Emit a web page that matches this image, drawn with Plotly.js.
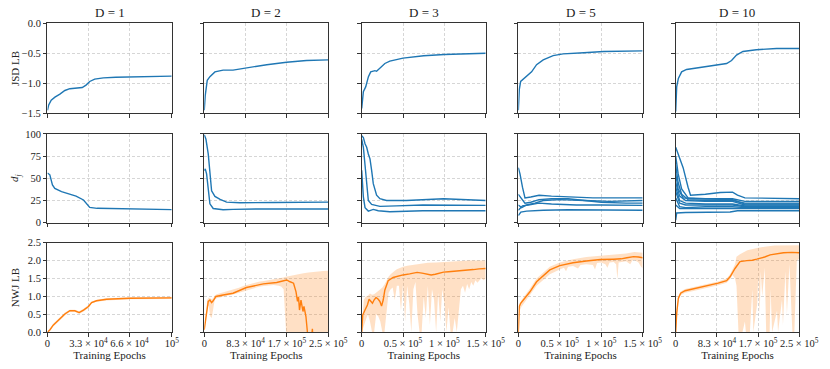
<!DOCTYPE html>
<html>
<head>
<meta charset="utf-8">
<script src="https://cdn.plot.ly/plotly-3.0.1.min.js"></script>
<style>
  body { margin: 0; padding: 0; background: #fff; }
  #chart { width: 830px; height: 369px; }
</style>
</head>
<body>
<div id="chart"></div>
<script>
// column headers and x ranges
const dims = ['D = 1', 'D = 2', 'D = 3', 'D = 5', 'D = 10'];
const xMax = [100000, 250000, 150000, 150000, 250000];

// ---- row 1: JSD LB ----
const jsdX1 = [0, 1000, 3000, 6000, 10000, 14000, 18000, 22000, 26000, 28000, 31000, 34000, 38000, 45000, 55000, 70000, 85000, 100000];
const jsdY1 = [-1.45, -1.36, -1.28, -1.23, -1.18, -1.12, -1.09, -1.08, -1.08, -1.07, -1.03, -0.97, -0.93, -0.91, -0.90, -0.89, -0.885, -0.88];
const jsdX2 = [0, 2000, 6000, 11400, 21500, 38000, 58000, 85000, 126000, 166000, 206000, 250000];
const jsdY2 = [-1.45, -1.2, -0.95, -0.89, -0.81, -0.78, -0.78, -0.74, -0.69, -0.65, -0.62, -0.61];
const jsdX3 = [0, 2000, 4800, 8100, 10900, 16000, 18000, 22000, 28000, 34000, 50000, 75000, 100000, 150000];
const jsdY3 = [-1.42, -1.14, -1.06, -0.89, -0.81, -0.79, -0.8, -0.75, -0.67, -0.63, -0.58, -0.54, -0.52, -0.50];
const jsdX4 = [0, 1200, 2800, 8000, 16000, 22000, 30000, 42000, 54000, 79000, 103000, 150000];
const jsdY4 = [-1.45, -1.1, -0.97, -0.91, -0.81, -0.69, -0.61, -0.54, -0.51, -0.49, -0.47, -0.46];
const jsdX5 = [0, 2000, 5400, 12000, 22000, 49000, 83000, 103000, 113000, 123000, 136000, 163000, 204000, 250000];
const jsdY5 = [-1.47, -1.06, -0.92, -0.81, -0.77, -0.74, -0.70, -0.67, -0.62, -0.53, -0.47, -0.44, -0.42, -0.42];

// ---- row 2: d_j ----
const djX1 = [0, 1900, 4000, 5900, 11300, 18000, 23000, 29000, 32000, 34000, 40000, 69000, 100000];
const djY1 = [56, 54, 42.5, 38.7, 35, 32.3, 30, 25.6, 20.7, 17.3, 16.2, 15.8, 14.7];

const djX2a = [0, 3400, 8000, 11400, 14800, 21500, 32000, 45000, 72000, 139000, 250000];
const djY2a = [99, 94, 77.5, 51, 36, 29.6, 26.2, 23.2, 22.5, 22.8, 23.2];
const djX2b = [0, 2000, 4700, 8000, 11400, 18000, 38000, 58000, 105000, 250000];
const djY2b = [58.8, 60.7, 55, 34.5, 21.3, 16, 14.6, 15, 15.4, 15.4];

const djX3a = [0, 2000, 4000, 6000, 8000, 10000, 12000, 14000, 18000, 22000, 30000, 54000, 99000, 123000, 150000];
const djY3a = [98, 96, 89, 85, 77.5, 72, 59, 44, 31, 27, 25, 25, 27, 26, 25];
const djX3b = [0, 2000, 4000, 6000, 8000, 12000, 22000, 42000, 74000, 150000];
const djY3b = [94, 85, 65, 40, 25, 20.6, 18.4, 19, 20, 19.5];
const djX3c = [0, 2000, 4000, 8000, 14000, 20000, 34000, 74000, 150000];
const djY3c = [59, 29, 17, 13.1, 15, 13.5, 12.4, 13.5, 13.5];

const djX4a = [0, 2000, 5000, 8000, 15000, 25000, 40000, 60000, 90000, 120000, 150000];
const djY4a = [62, 55, 40, 28, 29, 31, 30, 29, 28, 28, 28];
const djX4b = [0, 3000, 8000, 15000, 25000, 40000, 60000, 80000, 100000, 130000, 150000];
const djY4b = [32, 28, 22, 23, 26, 27, 27, 25, 23, 22, 22];
const djX4c = [0, 4000, 10000, 20000, 30000, 50000, 80000, 110000, 150000];
const djY4c = [20, 17, 20, 22, 25, 26, 25, 24, 25];
const djX4d = [0, 5000, 12000, 25000, 40000, 70000, 100000, 150000];
const djY4d = [14, 19, 20, 22, 21, 20, 20, 19.5];
const djX4e = [0, 3000, 10000, 30000, 60000, 100000, 150000];
const djY4e = [8, 12, 13, 14, 14.5, 14, 14];

const djX5a = [0, 5000, 15000, 25000, 30000, 60000, 90000, 115000, 125000, 140000, 250000];
const djY5a = [85, 78, 62, 40, 31, 32, 34, 34.5, 31, 28, 27];
const djX5b = [0, 5000, 12000, 25000, 60000, 115000, 140000, 250000];
const djY5b = [75, 55, 38, 28, 27, 27, 24, 24];
const djX5c = [0, 5000, 12000, 25000, 60000, 115000, 140000, 250000];
const djY5c = [65, 45, 32, 26, 25, 25, 22, 22];
const djX5d = [0, 5000, 15000, 40000, 115000, 140000, 250000];
const djY5d = [55, 38, 28, 27, 26, 21, 21];
const djX5e = [0, 8000, 20000, 60000, 115000, 140000, 250000];
const djY5e = [45, 30, 25, 24, 24, 20, 20];
const djX5f = [0, 8000, 20000, 60000, 115000, 140000, 250000];
const djY5f = [40, 25, 22, 21, 21, 19, 19];
const djX5g = [0, 8000, 20000, 60000, 115000, 140000, 250000];
const djY5g = [35, 22, 20, 20, 20, 18, 18];
const djX5h = [0, 8000, 20000, 60000, 115000, 140000, 250000];
const djY5h = [28, 18, 17, 18, 18, 17, 17];
const djX5i = [0, 8000, 30000, 115000, 140000, 250000];
const djY5i = [20, 16, 16, 16, 16, 16];
const djX5j = [0, 2000, 20000, 110000, 125000, 250000];
const djY5j = [3, 11, 11.5, 12, 13.5, 13.5];

// ---- row 3: NWJ LB (mean, lower, upper) ----
const nwjX1 = [0, 2000, 4600, 7300, 11300, 14000, 18000, 22000, 25500, 29000, 33000, 35500, 39500, 47600, 66400, 100000];
const nwjY1 = [0, 0.07, 0.2, 0.3, 0.42, 0.51, 0.6, 0.6, 0.55, 0.62, 0.72, 0.83, 0.88, 0.92, 0.95, 0.96];
const nwjLo1 = [0, 0.04, 0.16, 0.26, 0.38, 0.47, 0.57, 0.57, 0.51, 0.58, 0.68, 0.8, 0.85, 0.89, 0.92, 0.93];
const nwjUp1 = [0.02, 0.1, 0.24, 0.34, 0.46, 0.55, 0.63, 0.63, 0.59, 0.66, 0.76, 0.86, 0.91, 0.95, 0.98, 0.99];

const nwjX2 = [0, 3400, 8000, 11400, 14800, 18000, 23500, 38000, 58000, 85000, 119000, 146000, 160000, 166000, 173000, 180000, 185000, 188000, 190000, 192000, 195000, 197000, 199000, 201000, 203000, 205000, 208000, 212000, 216000, 218000, 220000, 230000, 250000];
const nwjY2 = [0.07, 0.44, 0.86, 0.9, 0.83, 0.88, 1.0, 1.04, 1.09, 1.25, 1.35, 1.39, 1.43, 1.46, 1.41, 1.37, 1.13, 0.86, 0.99, 0.62, 0.9, 0.7, 0.58, 0.72, 0.55, 0.44, 0, -0.5, -0.2, 0.1, -0.5, -1, -1];
const bandX2 = [0, 3000, 6000, 9000, 12000, 15000, 18000, 21000, 25000, 30000, 40000, 50000, 60000, 70000, 80000, 90000, 100000, 110000, 120000, 130000, 140000, 150000, 155000, 160000, 162000, 165000, 170000, 180000, 190000, 200000, 210000, 220000, 230000, 240000, 250000];
const nwjLo2 = [0, 0.3, 0.7, 0.75, 0.45, 0.4, 0.6, 0.9, 0.95, 0.97, 1.0, 1.03, 1.06, 1.1, 1.16, 1.2, 1.24, 1.27, 1.29, 1.31, 1.32, 1.3, 1.28, 1.2, 0.6, 0, 0, 0, 0, 0, 0, 0, 0, 0, 0];
const nwjUp2 = [0.1, 0.55, 0.9, 0.97, 0.95, 0.92, 0.95, 1.02, 1.06, 1.08, 1.1, 1.14, 1.18, 1.24, 1.3, 1.34, 1.38, 1.41, 1.43, 1.45, 1.47, 1.5, 1.52, 1.53, 1.54, 1.55, 1.57, 1.6, 1.63, 1.65, 1.67, 1.69, 1.7, 1.71, 1.72];

const nwjX3 = [0, 1200, 4000, 6900, 8900, 10900, 13000, 14900, 17300, 20000, 22000, 24000, 26000, 28000, 32000, 38000, 44000, 50000, 58000, 67000, 73000, 79000, 84000, 89000, 94000, 99000, 105000, 112000, 119000, 127000, 135000, 142000, 150000];
const nwjY3 = [0, 0.48, 0.62, 0.76, 0.92, 0.86, 0.81, 0.9, 0.97, 0.92, 0.86, 0.73, 0.9, 1.18, 1.44, 1.53, 1.57, 1.6, 1.63, 1.67, 1.65, 1.63, 1.6, 1.62, 1.65, 1.68, 1.69, 1.7, 1.72, 1.74, 1.75, 1.77, 1.78];
const loX3 = [0, 2500, 5000, 7500, 10000, 12500, 15000, 17500, 20000, 22500, 25000, 27500, 30000, 32500, 35000, 37500, 40000, 42500, 45000, 47500, 50000, 52500, 55000, 57500, 60000, 62500, 65000, 67500, 70000, 72500, 75000, 77500, 80000, 82500, 85000, 87500, 90000, 92500, 95000, 97500, 100000, 102500, 105000, 107500, 110000, 112500, 115000, 117500, 120000, 122500, 125000, 127500, 130000, 132500, 135000, 137500, 140000, 142500, 145000, 147500, 150000];
const nwjLo3 = [0, 0.2, 0.35, 0.5, 0.3, 0, 0, 0.5, 0.45, 0.3, 0, 0, 0.6, 1.1, 1.2, 1.25, 0.9, 1.3, 1.3, 0.6, 1.35, 0.3, 1.3, 0.8, 0, 1.2, 1.4, 0.5, 0, 0, 1.0, 0.4, 1.3, 0.2, 1.2, 0.9, 0, 1.1, 0.3, 1.2, 0.8, 0, 0.7, 0, 0, 0.4, 0, 0.6, 1.2, 1.3, 1.1, 1.35, 1.2, 1.4, 1.3, 1.45, 1.38, 1.45, 1.5, 1.45, 1.5];
const upX3 = [0, 2500, 5000, 7500, 10000, 12500, 15000, 17500, 20000, 22500, 25000, 27500, 30000, 32500, 35000, 37500, 40000, 42500, 45000, 47500, 50000, 55000, 60000, 65000, 70000, 75000, 80000, 90000, 100000, 110000, 120000, 130000, 140000, 150000];
const nwjUp3 = [0.1, 0.9, 1.0, 1.02, 1.08, 1.05, 1.06, 1.12, 1.15, 1.2, 1.25, 1.33, 1.45, 1.55, 1.62, 1.68, 1.72, 1.76, 1.79, 1.81, 1.83, 1.86, 1.88, 1.9, 1.92, 1.93, 1.94, 1.95, 1.97, 1.98, 1.99, 2.0, 2.0, 2.0];

const nwjX4 = [0, 1200, 2800, 8000, 14000, 22000, 30000, 38000, 50000, 66000, 82000, 99000, 115000, 124000, 131000, 139000, 145000, 150000];
const nwjY4 = [0, 0.72, 0.81, 0.95, 1.13, 1.41, 1.57, 1.74, 1.86, 1.94, 1.99, 2.03, 2.04, 2.05, 2.08, 2.11, 2.1, 2.08];
const loX4 = [0, 1500, 4000, 8000, 14000, 22000, 30000, 38000, 50000, 55000, 57500, 60000, 66000, 72000, 75000, 82000, 90000, 92500, 95000, 100000, 105000, 107500, 110000, 115000, 118000, 119500, 121000, 125000, 130000, 135000, 137500, 140000, 145000, 147500, 150000];
const nwjLo4 = [0, 0.6, 0.72, 0.85, 1.02, 1.3, 1.46, 1.62, 1.75, 1.8, 1.7, 1.83, 1.85, 1.78, 1.88, 1.9, 1.88, 1.75, 1.93, 1.95, 1.9, 1.8, 1.95, 1.96, 1.9, 1.48, 1.95, 1.97, 1.98, 1.9, 2.0, 2.02, 1.95, 1.85, 1.78];
const upX4 = [0, 1500, 4000, 8000, 14000, 22000, 30000, 38000, 50000, 66000, 82000, 100000, 115000, 130000, 140000, 150000];
const nwjUp4 = [0.05, 0.8, 0.9, 1.02, 1.22, 1.5, 1.67, 1.83, 1.95, 2.04, 2.1, 2.14, 2.16, 2.2, 2.24, 2.22];

const nwjX5 = [0, 2000, 5400, 10000, 19000, 36000, 63000, 86000, 103000, 110000, 120000, 130000, 144000, 155000, 164000, 171000, 180000, 191000, 205000, 218000, 235000, 250000];
const nwjY5 = [0, 0.53, 0.95, 1.09, 1.16, 1.21, 1.29, 1.37, 1.44, 1.55, 1.78, 1.97, 2.0, 2.01, 2.04, 2.06, 2.1, 2.16, 2.2, 2.22, 2.23, 2.22];
const loX5 = [0, 2000, 5400, 10000, 19000, 36000, 63000, 86000, 103000, 110000, 115000, 120000, 123000, 125000, 127000, 135000, 140000, 142000, 150000, 155000, 157000, 165000, 167000, 170000, 172000, 175000, 180000, 183000, 190000, 192000, 195000, 205000, 207000, 215000, 217000, 222000, 225000, 230000, 233000, 236000, 240000, 243000, 245000, 250000];
const nwjLo5 = [0, 0.45, 0.88, 1.03, 1.1, 1.15, 1.23, 1.31, 1.38, 1.48, 1.6, 1.5, 1.3, 0.8, 0, 0, 0.3, 0, 0, 1.2, 0, 0.8, 1.6, 0.5, 1.7, 1.0, 1.8, 0, 0, 1.2, 0, 0.6, 0, 0.9, 0.2, 1.7, 0.5, 1.9, 1.0, 0, 0, 1.5, 2.0, 2.05];
const upX5 = [0, 2000, 5400, 10000, 19000, 36000, 63000, 86000, 103000, 110000, 120000, 123000, 130000, 145000, 165000, 180000, 200000, 225000, 250000];
const nwjUp5 = [0.05, 0.6, 1.0, 1.14, 1.21, 1.26, 1.34, 1.42, 1.5, 1.62, 1.9, 2.11, 2.18, 2.29, 2.35, 2.39, 2.42, 2.43, 2.43];

// tick labels
const xTickVals = [
  [0, 33000, 66000, 100000],
  [0, 83333, 166667, 250000],
  [0, 50000, 100000, 150000],
  [0, 50000, 100000, 150000],
  [0, 83333, 166667, 250000]
];
const xTickText = [
  ['0', '3.3 × 10<sup>4</sup>', '6.6 × 10<sup>4</sup>', '10<sup>5</sup>'],
  ['0', '8.3 × 10<sup>4</sup>', '1.7 × 10<sup>5</sup>', '2.5 × 10<sup>5</sup>'],
  ['0', '0.5 × 10<sup>5</sup>', '1 × 10<sup>5</sup>', '1.5 × 10<sup>5</sup>'],
  ['0', '0.5 × 10<sup>5</sup>', '1 × 10<sup>5</sup>', '1.5 × 10<sup>5</sup>'],
  ['0', '8.3 × 10<sup>4</sup>', '1.7 × 10<sup>5</sup>', '2.5 × 10<sup>5</sup>']
];
const yTickVals = [[-1.5, -1, -0.5, 0], [0, 25, 50, 75, 100], [0, 0.5, 1, 1.5, 2, 2.5]];
const yTickText = [['−1.5', '−1.0', '−0.5', '0.0'], ['0', '25', '50', '75', '100'], ['0.0', '0.5', '1.0', '1.5', '2.0', '2.5']];
const yRanges = [[-1.5, 0], [0, 100], [0, 2.5]];
const rowTitles = ['JSD LB', '<i>d<sub>j</sub></i>', 'NWJ LB'];

const BLUE = '#1f77b4', ORANGE = '#ff7f0e', BAND = 'rgba(255,127,14,0.24)';
const FONT = 'Liberation Serif';

// subplot geometry (paper coordinates)
const colDom = [[0.0572, 0.2069], [0.2461, 0.3955], [0.4358, 0.5852], [0.6245, 0.7743], [0.8141, 0.9630]];
const rowDom = [[0.6930, 0.9369], [0.3965, 0.6369], [0.0995, 0.3423]];

function axName(r, c) { const k = r * 5 + c + 1; return k === 1 ? '' : String(k); }

const traces = [];
function line(r, c, x, y, color) {
  const k = axName(r, c);
  traces.push({ x: x, y: y, type: 'scatter', mode: 'lines', line: { color: color, width: 1.4 },
    xaxis: 'x' + k, yaxis: 'y' + k, hoverinfo: 'skip' });
}
function band(r, c, xl, lo, xu, up) {
  const k = axName(r, c);
  traces.push({ x: xl, y: lo, type: 'scatter', mode: 'lines', line: { width: 0, color: BAND },
    xaxis: 'x' + k, yaxis: 'y' + k, hoverinfo: 'skip' });
  traces.push({ x: xu, y: up, type: 'scatter', mode: 'lines', line: { width: 0, color: BAND },
    fill: 'tonexty', fillcolor: BAND, xaxis: 'x' + k, yaxis: 'y' + k, hoverinfo: 'skip' });
}

// row 1
line(0, 0, jsdX1, jsdY1, BLUE);
line(0, 1, jsdX2, jsdY2, BLUE);
line(0, 2, jsdX3, jsdY3, BLUE);
line(0, 3, jsdX4, jsdY4, BLUE);
line(0, 4, jsdX5, jsdY5, BLUE);
// row 2
line(1, 0, djX1, djY1, BLUE);
line(1, 1, djX2a, djY2a, BLUE); line(1, 1, djX2b, djY2b, BLUE);
line(1, 2, djX3a, djY3a, BLUE); line(1, 2, djX3b, djY3b, BLUE); line(1, 2, djX3c, djY3c, BLUE);
[[djX4a, djY4a], [djX4b, djY4b], [djX4c, djY4c], [djX4d, djY4d], [djX4e, djY4e]].forEach(s => line(1, 3, s[0], s[1], BLUE));
[[djX5a, djY5a], [djX5b, djY5b], [djX5c, djY5c], [djX5d, djY5d], [djX5e, djY5e],
 [djX5f, djY5f], [djX5g, djY5g], [djX5h, djY5h], [djX5i, djY5i], [djX5j, djY5j]].forEach(s => line(1, 4, s[0], s[1], BLUE));
// row 3
band(2, 0, nwjX1, nwjLo1, nwjX1, nwjUp1); line(2, 0, nwjX1, nwjY1, ORANGE);
band(2, 1, bandX2, nwjLo2, bandX2, nwjUp2); line(2, 1, nwjX2, nwjY2, ORANGE);
band(2, 2, loX3, nwjLo3, upX3, nwjUp3); line(2, 2, nwjX3, nwjY3, ORANGE);
band(2, 3, loX4, nwjLo4, upX4, nwjUp4); line(2, 3, nwjX4, nwjY4, ORANGE);
band(2, 4, loX5, nwjLo5, upX5, nwjUp5); line(2, 4, nwjX5, nwjY5, ORANGE);

const textFont = (size) => ({ family: FONT, size: size, color: '#222', weight: 400,
  style: 'normal', variant: 'normal', shadow: 'none', textcase: 'normal', lineposition: 'none' });

const layout = {
  width: 830, height: 369,
  margin: { l: 0, r: 0, t: 0, b: 0 },
  paper_bgcolor: '#fff', plot_bgcolor: '#fff',
  showlegend: false,
  font: { family: FONT, size: 10, color: '#222' },
  annotations: []
};

for (let r = 0; r < 3; r++) {
  for (let c = 0; c < 5; c++) {
    const k = axName(r, c);
    const common = {
      showline: true, mirror: true, linecolor: '#333', linewidth: 1,
      ticks: 'outside', ticklen: 3.5, tickwidth: 1, tickcolor: '#333',
      showgrid: true, gridcolor: '#c4c4c4', griddash: '3px,2px', gridwidth: 0.7,
      zeroline: false, fixedrange: true, tickangle: 0,
      tickfont: { family: FONT, size: 10.5, color: '#222' }
    };
    layout['xaxis' + k] = Object.assign({}, common, {
      domain: colDom[c], anchor: 'y' + k, range: [0, xMax[c]],
      tickmode: 'array', tickvals: xTickVals[c], ticktext: xTickText[c],
      showticklabels: r === 2, ticklabelstandoff: -2
    });
    if (r === 2) {
      layout['xaxis' + k].title = { text: 'Training Epochs', font: textFont(11), standoff: 1 };
    }
    layout['yaxis' + k] = Object.assign({}, common, {
      domain: rowDom[r], anchor: 'x' + k, range: yRanges[r],
      tickmode: 'array', tickvals: yTickVals[r], ticktext: yTickText[r],
      showticklabels: c === 0
    });
  }
}

dims.forEach((d, c) => {
  layout.annotations.push({ text: d, xref: 'paper', yref: 'paper',
    x: (colDom[c][0] + colDom[c][1]) / 2, y: 0.967, xanchor: 'center', yanchor: 'middle',
    showarrow: false, font: textFont(13) });
});
rowTitles.forEach((t, r) => {
  layout.annotations.push({ text: t, xref: 'paper', yref: 'paper',
    x: 0.019, y: (rowDom[r][0] + rowDom[r][1]) / 2, xanchor: 'center', yanchor: 'middle',
    textangle: -90, showarrow: false, font: textFont(11) });
});

Plotly.newPlot('chart', traces, layout, { displayModeBar: false, staticPlot: true });
</script>
</body>
</html>
